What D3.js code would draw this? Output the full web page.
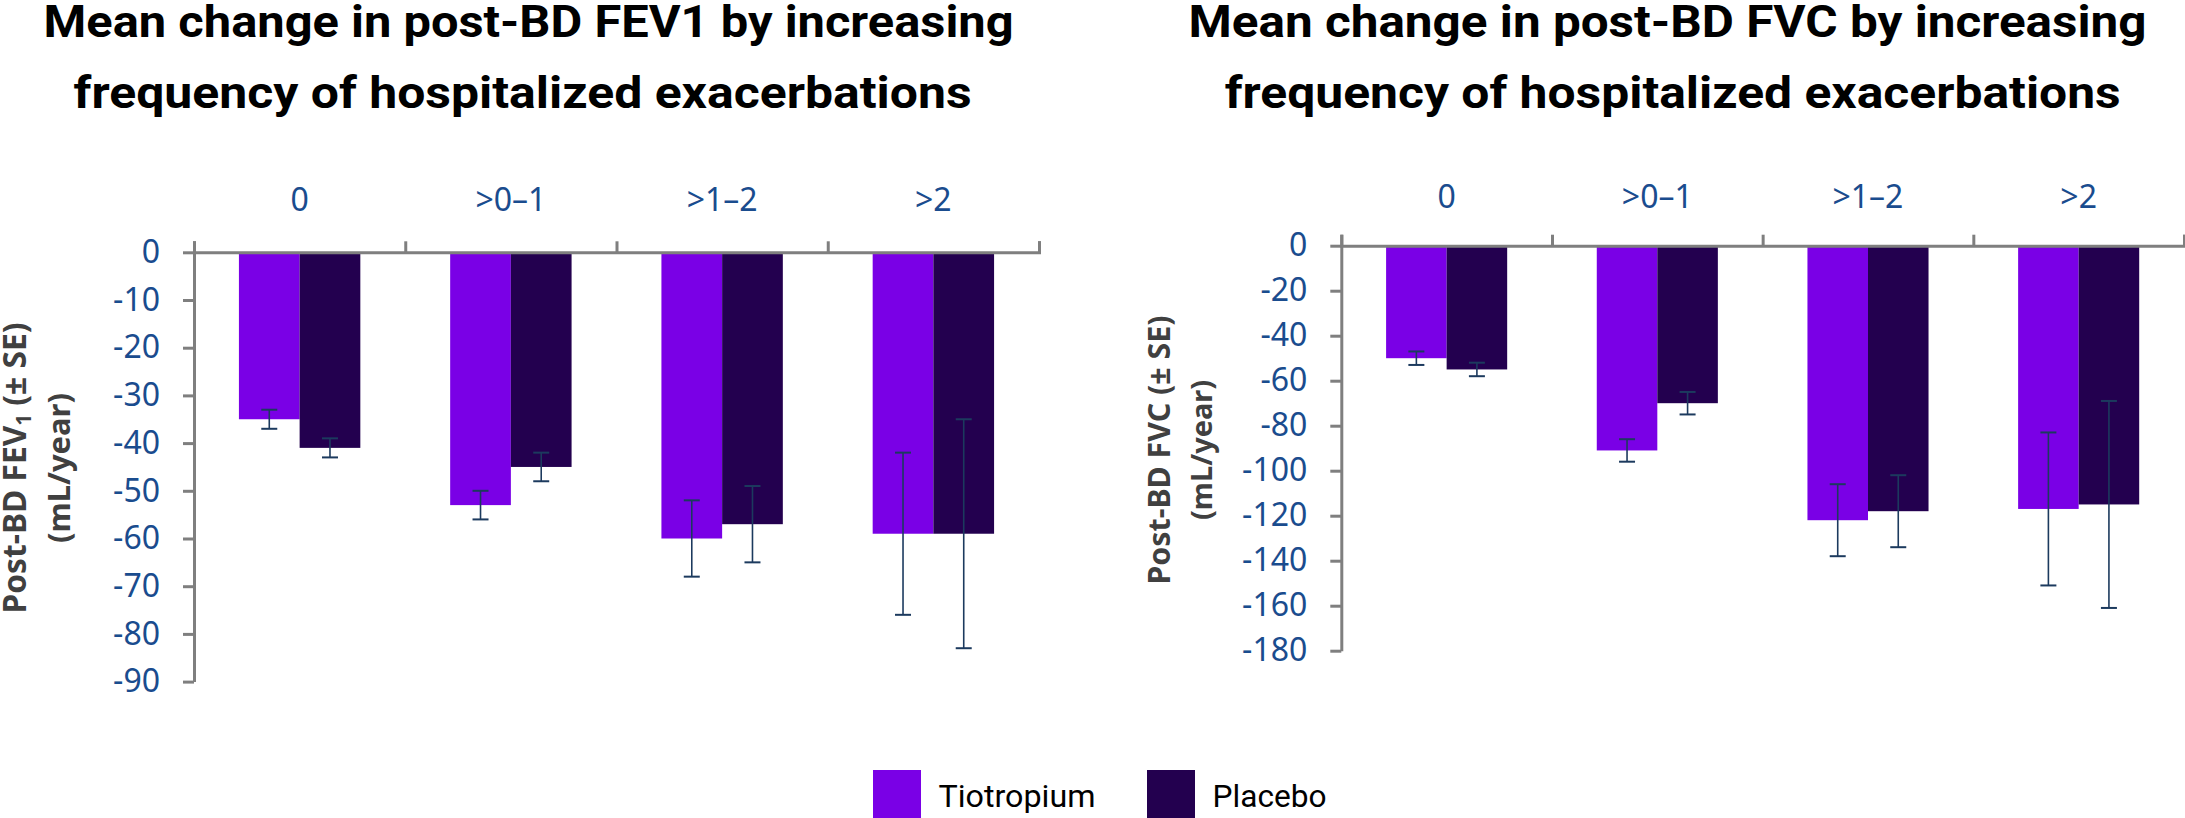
<!DOCTYPE html>
<html><head><meta charset="utf-8">
<script src="https://cdn.jsdelivr.net/npm/d3@7"></script>
<style>body{margin:0;background:#fff} svg{display:block}</style>
</head><body><svg id="c" width="2185" height="818"></svg>
<script>
// ---------- data ----------
const categories = ["0", ">0\u20131", ">1\u20132", ">2"];
const seriesNames = ["Tiotropium", "Placebo"];
const seriesColors = ["#7a00e6", "#23004f"];

const fev1Tiotropium   = [-35, -53, -60, -59];
const fev1TiotropiumSE = [2, 3, 8, 17];
const fev1Placebo      = [-41, -45, -57, -59];
const fev1PlaceboSE    = [2, 3, 8, 24];

const fvcTiotropium    = [-50, -91, -122, -117];
const fvcTiotropiumSE  = [3, 5, 16, 34];
const fvcPlacebo       = [-55, -70, -118, -115];
const fvcPlaceboSE     = [3, 5, 16, 46];

const fev1Ticks = [0, -10, -20, -30, -40, -50, -60, -70, -80, -90];
const fvcTicks  = [0, -20, -40, -60, -80, -100, -120, -140, -160, -180];

const fev1Title = ["Mean change in post-BD FEV1 by increasing", "frequency of hospitalized exacerbations"];
const fvcTitle  = ["Mean change in post-BD FVC by increasing", "frequency of hospitalized exacerbations"];

// ---------- drawing ----------
const svg = d3.select("#c");
svg.append("rect").attr("width", 2185).attr("height", 818).attr("fill", "#fff");

const AXIS = "#7f7f7f", TICKTXT = "#1a4c8e", ERR = "#1c3a5e";

function fitFont(textSel, target) {
  const node = textSel.node();
  const fs = parseFloat(textSel.attr("font-size"));
  const w = node.getComputedTextLength();
  textSel.attr("font-size", (fs * target / w).toFixed(2));
}

function panel(cfg) {
  const g = svg.append("g");
  const x0 = d3.scaleBand().domain(categories).range(cfg.xRange).padding(0);
  const x1 = d3.scaleBand().domain(seriesNames).range([0, x0.bandwidth()])
    .paddingInner(0).paddingOuter(0.74);
  const y = d3.scaleLinear().domain(cfg.yDomain).range(cfg.yRange);

  const rows = categories.map((c, i) => ({
    cat: c,
    vals: [
      {s: seriesNames[0], v: cfg.tio[i], se: cfg.tioSE[i]},
      {s: seriesNames[1], v: cfg.pla[i], se: cfg.plaSE[i]}
    ]
  }));

  const grp = g.selectAll("g.grp").data(rows).join("g")
    .attr("transform", d => `translate(${x0(d.cat)},0)`);

  grp.selectAll("rect").data(d => d.vals).join("rect")
    .attr("x", d => x1(d.s))
    .attr("width", x1.bandwidth())
    .attr("y", y(0))
    .attr("height", d => y(d.v) - y(0))
    .attr("fill", (d, i) => seriesColors[i]);

  const eb = grp.selectAll("g.eb").data(d => d.vals).join("g")
    .attr("transform", d => `translate(${x1(d.s) + x1.bandwidth() / 2},0)`);
  eb.append("line").attr("x1", 0).attr("x2", 0)
    .attr("y1", d => y(d.v + d.se)).attr("y2", d => y(d.v - d.se))
    .attr("stroke", ERR).attr("stroke-width", 1.6);
  eb.append("line").attr("x1", -8).attr("x2", 8)
    .attr("y1", d => y(d.v + d.se)).attr("y2", d => y(d.v + d.se))
    .attr("stroke", ERR).attr("stroke-width", 2);
  eb.append("line").attr("x1", -8).attr("x2", 8)
    .attr("y1", d => y(d.v - d.se)).attr("y2", d => y(d.v - d.se))
    .attr("stroke", ERR).attr("stroke-width", 2);

  // y axis
  const ya = g.append("g").attr("transform", `translate(${cfg.xRange[0]},0)`)
    .call(d3.axisLeft(y).tickValues(cfg.ticks).tickSize(11).tickSizeOuter(0).tickPadding(23)
      .tickFormat(d3.format("d")));
  ya.select(".domain").attr("stroke", AXIS).attr("stroke-width", 3);
  ya.selectAll(".tick line").attr("stroke", AXIS).attr("stroke-width", 3);
  ya.selectAll(".tick text").attr("fill", TICKTXT)
    .attr("font-family", "'Noto Sans', sans-serif").attr("font-size", 32)
    .text(d => d === 0 ? "0" : "-" + Math.abs(d));

  // x axis (top, ticks at band boundaries)
  const xb = d3.scaleLinear().domain([0, categories.length]).range(cfg.xRange);
  const xa = g.append("g").attr("transform", `translate(0,${y(0)})`)
    .call(d3.axisTop(xb).tickValues(d3.range(categories.length + 1)).tickSize(11).tickFormat(""));
  xa.select(".domain").attr("stroke", AXIS).attr("stroke-width", 3);
  xa.selectAll(".tick line").attr("stroke", AXIS).attr("stroke-width", 3);

  g.selectAll("text.cat").data(categories).join("text")
    .attr("class", "cat")
    .attr("x", d => x0(d) + x0.bandwidth() / 2)
    .attr("y", cfg.catY)
    .attr("text-anchor", "middle")
    .attr("fill", TICKTXT)
    .attr("font-family", "'Noto Sans', sans-serif").attr("font-size", 32)
    .text(d => d);

  // titles
  cfg.title.forEach((t, i) => {
    g.append("text")
      .attr("x", cfg.titleX[i]).attr("y", [37, 108][i])
      .attr("text-anchor", "middle")
      .attr("font-family", "Roboto, sans-serif").attr("font-weight", 700)
      .attr("font-size", 45).attr("fill", "#000")
      .attr("textLength", cfg.titleW[i]).attr("lengthAdjust", "spacingAndGlyphs")
      .text(t);
  });

  // y label
  const l1 = g.append("text")
    .attr("transform", `translate(${cfg.lab1X},${cfg.labY}) rotate(-90)`)
    .attr("text-anchor", "middle")
    .attr("font-family", "'Noto Sans', sans-serif").attr("font-weight", 700)
    .attr("font-size", 30).attr("fill", "#404040");
  cfg.lab1(l1);
  fitFont(l1, cfg.lab1W);
  const l2 = g.append("text")
    .attr("transform", `translate(${cfg.lab2X},${cfg.labY}) rotate(-90)`)
    .attr("text-anchor", "middle")
    .attr("font-family", "'Noto Sans', sans-serif").attr("font-weight", 700)
    .attr("font-size", 30).attr("fill", "#404040")
    .text("(mL/year)");
  fitFont(l2, cfg.lab2W);
}

panel({
  xRange: [194, 1039], yDomain: [0, -90], yRange: [252.3, 681.6], ticks: fev1Ticks,
  tio: fev1Tiotropium, tioSE: fev1TiotropiumSE, pla: fev1Placebo, plaSE: fev1PlaceboSE,
  catY: 211, title: fev1Title, titleX: [528.6, 522.6], titleW: [970, 898],
  lab1X: 26, lab2X: 70, labY: 468, lab1W: 291, lab2W: 150,
  lab1: t => {
    t.append("tspan").text("Post-BD FEV");
    t.append("tspan").attr("font-size", "65%").attr("dy", "0.25em").text("1");
    t.append("tspan").attr("dy", "-0.16em").text(" (\u00b1 SE)");
  }
});

panel({
  xRange: [1341.3, 2184], yDomain: [0, -180], yRange: [245.7, 650.7], ticks: fvcTicks,
  tio: fvcTiotropium, tioSE: fvcTiotropiumSE, pla: fvcPlacebo, plaSE: fvcPlaceboSE,
  catY: 208, title: fvcTitle, titleX: [1667.5, 1672.7], titleW: [958, 896],
  lab1X: 1170, lab2X: 1212, labY: 450, lab1W: 269, lab2W: 140,
  lab1: t => t.text("Post-BD FVC (\u00b1 SE)")
});

// legend
const legX = [873, 1147], legTextX = [938.5, 1212.6], legTextW = [157, 114];
const leg = svg.append("g");
seriesNames.forEach((s, i) => {
  leg.append("rect").attr("x", legX[i]).attr("y", 770).attr("width", 48).attr("height", 48)
    .attr("fill", seriesColors[i]);
  leg.append("text").attr("x", legTextX[i]).attr("y", 807)
    .attr("font-family", "Roboto, sans-serif").attr("font-size", 32).attr("fill", "#000")
    .attr("textLength", legTextW[i]).attr("lengthAdjust", "spacingAndGlyphs")
    .text(s);
});
</script></body></html>
